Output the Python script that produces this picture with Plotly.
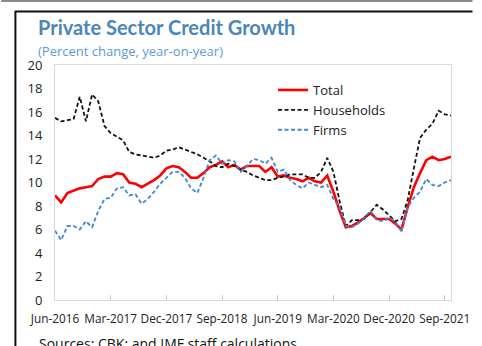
import pandas as pd
import plotly.graph_objects as go

# Monthly categories Jun-2016 .. Oct-2021
months = [d.strftime("%b-%Y") for d in pd.date_range("2016-06-01", "2021-10-01", freq="MS")]

total = [8.9, 8.3, 9.1, 9.3, 9.5, 9.6, 9.7, 10.3, 10.5, 10.5, 10.8, 10.7,
         10.0, 9.9, 9.6, 9.9, 10.2, 10.6, 11.2, 11.4, 11.3, 10.9, 10.4, 10.4,
         10.8, 11.3, 11.5, 11.8, 11.3, 11.5, 11.1, 11.4, 11.4, 11.4, 10.9, 11.3,
         10.5, 10.6, 10.4, 10.3, 10.1, 10.4, 10.1, 10.0, 10.6, 9.2, 7.6, 6.2,
         6.3, 6.6, 7.0, 7.4, 6.9, 6.9, 6.9, 6.5, 6.0, 7.9, 9.6, 10.8,
         11.9, 12.2, 11.9, 12.0, 12.2]

households = [15.5, 15.2, 15.3, 15.4, 17.3, 15.2, 17.5, 16.9, 14.8, 14.2, 13.9, 13.6,
              12.6, 12.4, 12.3, 12.2, 12.1, 12.3, 12.7, 12.8, 13.0, 12.8, 12.6, 12.4,
              12.1, 11.8, 11.4, 11.3, 11.6, 11.4, 11.1, 10.9, 10.6, 10.4, 10.2, 10.2,
              10.4, 10.5, 10.7, 10.7, 10.7, 10.4, 10.4, 10.9, 12.1, 10.9, 8.4, 6.3,
              6.8, 6.8, 6.9, 7.5, 8.1, 7.7, 7.2, 6.7, 6.9, 8.5, 11.2, 13.8,
              14.5, 15.0, 16.1, 15.8, 15.7]

firms = [5.9, 5.1, 6.3, 6.3, 6.0, 6.7, 6.2, 7.6, 8.6, 8.7, 9.5, 9.6,
         8.9, 9.0, 8.2, 8.6, 9.2, 9.9, 10.4, 10.9, 10.9, 10.4, 9.5, 9.1,
         10.4, 11.9, 12.3, 11.6, 11.9, 11.8, 10.9, 11.4, 12.0, 11.9, 11.6, 12.1,
         10.9, 11.1, 10.2, 9.8, 9.5, 10.0, 9.8, 9.6, 9.8, 8.6, 7.9, 6.3,
         6.2, 6.5, 7.0, 7.6, 6.8, 6.7, 7.0, 6.7, 5.8, 7.9, 8.7, 9.2,
         10.3, 9.8, 9.7, 10.0, 10.2]

tick_labels = ["Jun-2016", "Mar-2017", "Dec-2017", "Sep-2018", "Jun-2019",
               "Mar-2020", "Dec-2020", "Sep-2021"]

W, H = 482, 346
L, R, T, B = 55, 22, 65, 46
PW, PH = W - L - R, H - T - B

def px(x):
    return (x - L) / PW

def py(y):
    return (H - B - y) / PH

fig = go.Figure()
fig.add_trace(go.Scatter(x=months, y=total, name="Total", mode="lines",
                         line=dict(color="#ff0000", width=2.6)))
fig.add_trace(go.Scatter(x=months, y=households, name="Households", mode="lines",
                         line=dict(color="#111111", width=1.8, dash="4px,2.5px")))
fig.add_trace(go.Scatter(x=months, y=firms, name="Firms", mode="lines",
                         line=dict(color="#4088d0", width=1.8, dash="4px,2.5px")))

fig.update_layout(
    width=W, height=H,
    margin=dict(l=L, r=R, t=T, b=B),
    paper_bgcolor="white", plot_bgcolor="white",
    font=dict(family="Open Sans", size=13, color="#222222"),
    showlegend=True,
    legend=dict(x=px(278), y=py(75), xanchor="left", yanchor="top",
                bgcolor="rgba(0,0,0,0)", font=dict(size=13, color="#222222"),
                tracegroupgap=0),
    xaxis=dict(type="category", categoryorder="array", categoryarray=months,
               range=[0, len(months) - 1],
               tickvals=tick_labels, ticktext=tick_labels,
               ticks="inside", ticklen=5, tickcolor="#c8c8c8",
               showline=True, linecolor="#d9d9d9", linewidth=1, mirror=True,
               showgrid=False, zeroline=False, tickangle=0,
               ticklabelstandoff=8,
               tickfont=dict(size=11.8, color="#222222")),
    yaxis=dict(range=[0, 20], dtick=2, showgrid=False, zeroline=False,
               showline=True, linecolor="#d9d9d9", linewidth=1, mirror=True,
               ticks="", ticklabelstandoff=9,
               tickfont=dict(size=13, color="#222222")),
    annotations=[
        dict(text="<b>Private Sector Credit Growth</b>", x=px(36), y=py(27),
             xref="paper", yref="paper", xanchor="left", yanchor="middle",
             showarrow=False, font=dict(family="Lato", size=20, color="#4a86b8")),
        dict(text="(Percent change, year-on-year)", x=px(36), y=py(51),
             xref="paper", yref="paper", xanchor="left", yanchor="middle",
             showarrow=False, font=dict(family="Open Sans", size=13, color="#5b9bd5")),
        dict(text="Sources: CBK; and IMF staff calculations.", x=px(37), y=py(343),
             xref="paper", yref="paper", xanchor="left", yanchor="middle",
             showarrow=False, font=dict(family="Open Sans", size=14, color="#111111")),
    ],
    shapes=[
        dict(type="rect", xref="paper", yref="paper", x0=px(0), x1=px(482),
             y0=py(2), y1=py(0), fillcolor="#8a8a8a", line=dict(width=0), layer="above"),
        dict(type="line", xref="paper", yref="paper", x0=px(14), x1=px(482),
             y0=py(11.5), y1=py(11.5), line=dict(color="#111111", width=2)),
        dict(type="line", xref="paper", yref="paper", x0=px(14.5), x1=px(14.5),
             y0=py(11), y1=py(346), line=dict(color="#111111", width=2)),
    ],
)

fig.write_html("out.html")
